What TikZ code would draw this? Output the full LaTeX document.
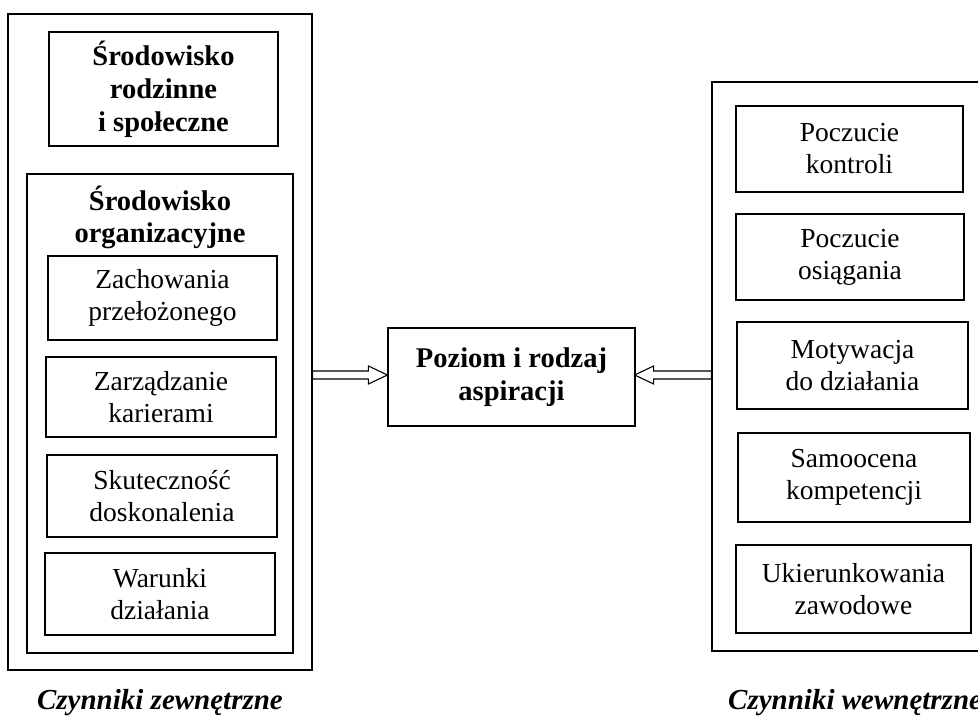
\documentclass[tikz,border=0pt]{standalone}
\usepackage{fontspec}
\setmainfont{Liberation Serif}
\usetikzlibrary{calc}
\tikzset{
  box/.style={draw, line width=1.2pt, rectangle, inner sep=0pt, align=center,
    font=\fontsize{27.5}{32}\selectfont},
  bbox/.style={box, font=\fontsize{28.5}{33}\selectfont\bfseries},
  lbl/.style={inner sep=0pt, font=\fontsize{29}{33}\selectfont\bfseries\itshape},
  arr/.style={draw, line width=1.1pt, fill=white, line join=miter},
}
\begin{document}
\begin{tikzpicture}[x=1pt,y=-1pt]
\useasboundingbox (0,0) rectangle (978,720);
\begin{scope}
\clip (0,0) rectangle (978,720);
% left side
\node[box, minimum width=304pt, minimum height=656pt] (L) at (160,342) {};
\node[bbox, minimum width=229pt, minimum height=114pt] (T) at (163.5,89) {Środowisko\\rodzinne\\i społeczne};
\node[box, minimum width=266pt, minimum height=479pt] (O) at (160,413.5) {};
\node[inner sep=0pt, align=center, font=\fontsize{28.5}{32}\selectfont\bfseries] (Ot) at (160,217) {Środowisko\\organizacyjne};
\node[box, minimum width=229pt, minimum height=84pt] (Z1) at (162.5,298) {Zachowania\\przełożonego};
\node[box, minimum width=230pt, minimum height=80pt] (Z2) at (161,397) {Zarządzanie\\karierami};
\node[box, minimum width=230pt, minimum height=82pt] (Z3) at (162,496) {Skuteczność\\doskonalenia};
\node[box, minimum width=230pt, minimum height=82pt] (Z4) at (160,594) {Warunki\\działania};
% center
\node[bbox, minimum width=247pt, minimum height=98pt, font=\fontsize{28.5}{33}\selectfont\bfseries] (C) at (511.5,377) {Poziom i rodzaj\\aspiracji};
% right side
\node[box, minimum width=278pt, minimum height=569pt] (R) at (851,366.5) {};
\node[box, minimum width=227pt, minimum height=86pt] (R1) at (849.5,149) {Poczucie\\kontroli};
\node[box, minimum width=228pt, minimum height=86pt] (R2) at (850,257) {Poczucie\\osiągania};
\node[box, minimum width=231pt, minimum height=87pt] (R3) at (852.5,365.5) {Motywacja\\do działania};
\node[box, minimum width=232pt, minimum height=89pt] (R4) at (854,477.5) {Samoocena\\kompetencji};
\node[box, minimum width=235pt, minimum height=88pt] (R5) at (853.5,589) {Ukierunkowania\\zawodowe};
% labels
\node[lbl, anchor=base] (LL) at (160,709) {Czynniki zewnętrzne};
\node[lbl, anchor=base west] (RL) at (728,709) {Czynniki wewnętrzne};
% arrows
\coordinate (ltip) at ($(C.west)+(0,-2)$);
\draw[arr] ($(L.east)+(0,29)$) -- ($(ltip)+(-19,-4)$) -- ($(ltip)+(-19,-9)$) -- (ltip)
  -- ($(ltip)+(-19,9)$) -- ($(ltip)+(-19,4)$) -- ($(L.east)+(0,37)$) -- cycle;
\coordinate (rtip) at ($(C.east)+(-1,-2)$);
\draw[arr] ($(R.west)+(0,4.5)$) -- ($(rtip)+(19,-4)$) -- ($(rtip)+(19,-9)$) -- (rtip)
  -- ($(rtip)+(19,9)$) -- ($(rtip)+(19,4)$) -- ($(R.west)+(0,12.5)$) -- cycle;
\end{scope}
\end{tikzpicture}
\end{document}
